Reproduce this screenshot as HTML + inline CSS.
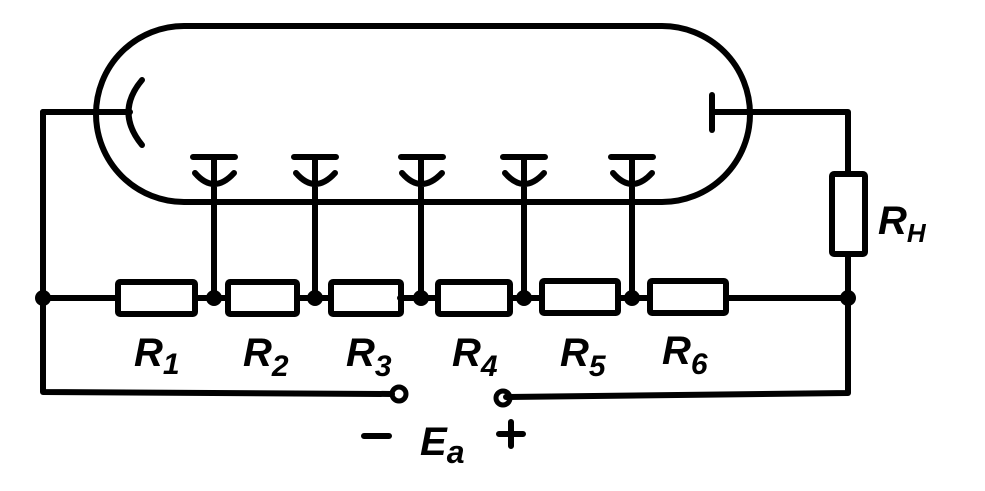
<!DOCTYPE html>
<html><head><meta charset="utf-8"><style>
html,body{margin:0;padding:0;background:#fff;}
svg{display:block;}
text{font-family:"Liberation Sans",sans-serif;font-style:italic;font-weight:bold;fill:#000;}
</style></head><body>
<svg width="985" height="491" viewBox="0 0 985 491" xmlns="http://www.w3.org/2000/svg">
<g fill="none" stroke="#000" stroke-width="6" stroke-linecap="round" stroke-linejoin="round">
<path d="M184,26 L662,26 A88,88 0 0 1 662,202 L184,202 A88,88 0 0 1 184,26 Z"/>
<path d="M142,80 Q115,112 142,145"/>
<path d="M43,112 L130,112"/>
<path d="M712,95 L712,130"/>
<path d="M712,112 L848,112 L848,174"/>
<rect x="832" y="174" width="33" height="80" rx="2"/>
<path d="M848,254 L848,393 L506,397"/>
<path d="M43,112 L43,392 L392,394"/>
<path d="M43,298 L118,298"/>
<path d="M195,298 L228,298 M297,298 L331,298 M400,298 L438,298 M510,298 L542,298 M618,298 L650,298 M726,298 L848,298"/>
<rect x="118" y="282" width="77" height="32" rx="2"/>
<rect x="228" y="282" width="69" height="32" rx="2"/>
<rect x="331" y="282" width="70" height="32" rx="2"/>
<rect x="438" y="282" width="72" height="32" rx="2"/>
<rect x="542" y="281" width="76" height="32" rx="2"/>
<rect x="650" y="281" width="76" height="32" rx="2"/>
<path d="M193,157 L235,157 M214,157 L214,298 M195,173 Q214,195 234,173"/>
<path d="M294,157 L336,157 M315,157 L315,298 M296,173 Q315,195 335,173"/>
<path d="M401,157 L443,157 M421,157 L421,298 M402,173 Q421,195 442,173"/>
<path d="M503,157 L545,157 M524,157 L524,298 M505,173 Q524,195 544,173"/>
<path d="M611,157 L653,157 M632,157 L632,298 M613,173 Q632,195 652,173"/>
<circle cx="399" cy="394" r="7" stroke-width="5"/>
<circle cx="503" cy="398" r="7" stroke-width="5"/>
<path d="M364,436 L389,436 M499,434 L523,434 M511,422 L511,446"/>
</g>
<g fill="#000">
<circle cx="43" cy="298" r="8"/>
<circle cx="214" cy="298" r="8"/>
<circle cx="315" cy="298" r="8"/>
<circle cx="421" cy="298" r="8"/>
<circle cx="524" cy="298" r="8"/>
<circle cx="632" cy="298" r="8"/>
<circle cx="848" cy="298" r="8"/>
</g>
<g font-size="40">
<text x="134" y="366">R<tspan font-size="30" dy="8">1</tspan></text>
<text x="243" y="366">R<tspan font-size="30" dy="10">2</tspan></text>
<text x="346" y="366">R<tspan font-size="30" dy="10">3</tspan></text>
<text x="452" y="366">R<tspan font-size="30" dy="10">4</tspan></text>
<text x="560" y="366">R<tspan font-size="30" dy="10">5</tspan></text>
<text x="662" y="364">R<tspan font-size="30" dy="10">6</tspan></text>
<text x="878" y="234">R<tspan font-size="26" dy="8">H</tspan></text>
<text x="420" y="455">E<tspan font-size="32" dy="8">a</tspan></text>
</g>
</svg>
</body></html>
